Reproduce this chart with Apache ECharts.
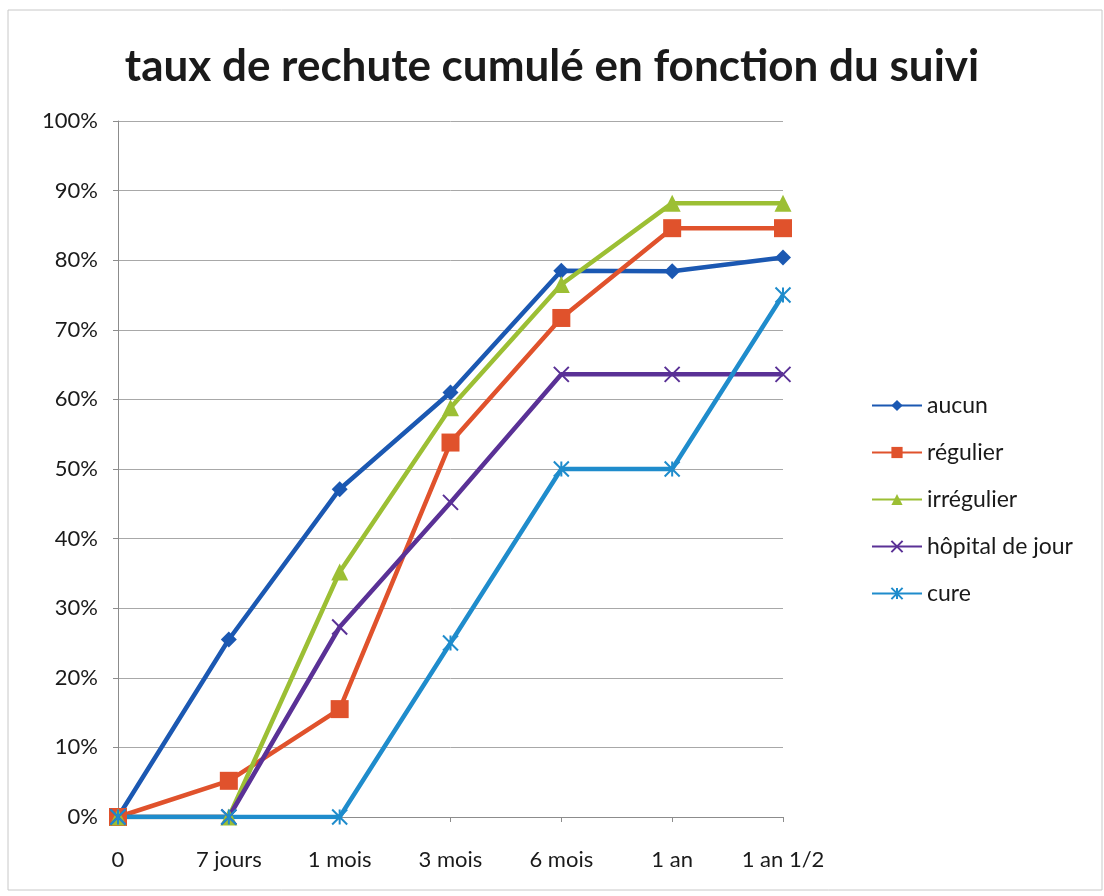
<!DOCTYPE html>
<html>
<head>
<meta charset="utf-8">
<script src="https://cdn.jsdelivr.net/npm/echarts@6/dist/echarts.min.js"></script>
<style>
  html, body { margin: 0; padding: 0; background: #fff; }
  #chart { width: 1104px; height: 896px; }
</style>
</head>
<body>
<div id="chart"></div>
<script>
// Follow-up periods
const categories = ['0', '7 jours', '1 mois', '3 mois', '6 mois', '1 an', '1 an 1/2'];

// Cumulative relapse rate (%) per type of follow-up
const aucun = [0, 25.5, 47.1, 61.0, 78.5, 78.4, 80.4];
const regulier = [0, 5.2, 15.5, 53.8, 71.7, 84.6, 84.6];
const irregulier = [0, 0, 35.2, 58.8, 76.5, 88.2, 88.2];
const hopitalDeJour = [0, 0, 27.3, 45.2, 63.6, 63.6, 63.6];
const cure = [0, 0, 0, 25.0, 50.0, 50.0, 75.0];

const yTicks = [0, 10, 20, 30, 40, 50, 60, 70, 80, 90, 100];

const FONT = 'Lato, "Open Sans", sans-serif';

function lineSeries(name, data, color, symbol, size, stroke) {
  return {
    name: name,
    type: 'line',
    data: data,
    symbol: symbol,
    symbolSize: size,
    showAllSymbol: true,
    lineStyle: { color: color, width: 4.5 },
    itemStyle: stroke
      ? { color: color, borderColor: color, borderWidth: 2 }
      : { color: color, borderWidth: 0 },
    emphasis: { disabled: true },
    z: 3
  };
}

const chart = echarts.init(document.getElementById('chart'), null, { renderer: 'canvas' });

chart.setOption({
  backgroundColor: '#ffffff',
  animation: false,
  title: {
    text: 'taux de rechute cumulé en fonction du suivi',
    left: 'center',
    top: 40,
    textStyle: { fontFamily: FONT, fontWeight: 'bold', fontSize: 44, color: '#1a1a1a' }
  },
  graphic: [{
    type: 'rect',
    shape: { x: 8, y: 10, width: 1094, height: 880 },
    style: { fill: 'none', stroke: '#c8c8c8', lineWidth: 1 },
    silent: true,
    z: -1
  }],
  grid: { left: 118, right: 321, top: 121, bottom: 79, containLabel: false },
  legend: {
    orient: 'vertical',
    left: 866,
    top: 389,
    itemWidth: 50,
    itemHeight: 14,
    itemGap: 24,
    textStyle: { fontFamily: FONT, fontSize: 23, color: '#1a1a1a', padding: [0, 0, 0, 0] },
    data: ['aucun', 'régulier', 'irrégulier', 'hôpital de jour', 'cure']
  },
  xAxis: {
    type: 'category',
    data: categories,
    boundaryGap: false,
    axisLine: { lineStyle: { color: '#8c8c8c', width: 1 } },
    axisTick: { show: true, length: 5, lineStyle: { color: '#8c8c8c' } },
    axisLabel: { fontFamily: FONT, fontSize: 22, color: '#1a1a1a', margin: 32 },
    splitLine: { show: false }
  },
  yAxis: {
    type: 'value',
    min: 0,
    max: 100,
    interval: 10,
    axisLine: { show: true, lineStyle: { color: '#8c8c8c', width: 1 } },
    axisTick: { show: true, length: 5, lineStyle: { color: '#8c8c8c' } },
    axisLabel: {
      fontFamily: FONT, fontSize: 22, color: '#1a1a1a', margin: 20,
      formatter: v => (yTicks.includes(v) ? v + '%' : '')
    },
    splitLine: { show: true, lineStyle: { color: '#a8a8a8', width: 1 } }
  },
  series: [
    lineSeries('aucun', aucun, '#1b58b2', 'diamond', 16, false),
    lineSeries('régulier', regulier, '#e0522c', 'rect', 18, false),
    lineSeries('irrégulier', irregulier, '#9cbf34', 'triangle', 17, false),
    lineSeries('hôpital de jour', hopitalDeJour, '#5a3196',
      'path://M0,0L10,10M10,0L0,10', 15, true),
    lineSeries('cure', cure, '#1f8ccc',
      'path://M0,0L10,10M10,0L0,10M5,0L5,10', 15, true)
  ]
});
</script>
</body>
</html>
